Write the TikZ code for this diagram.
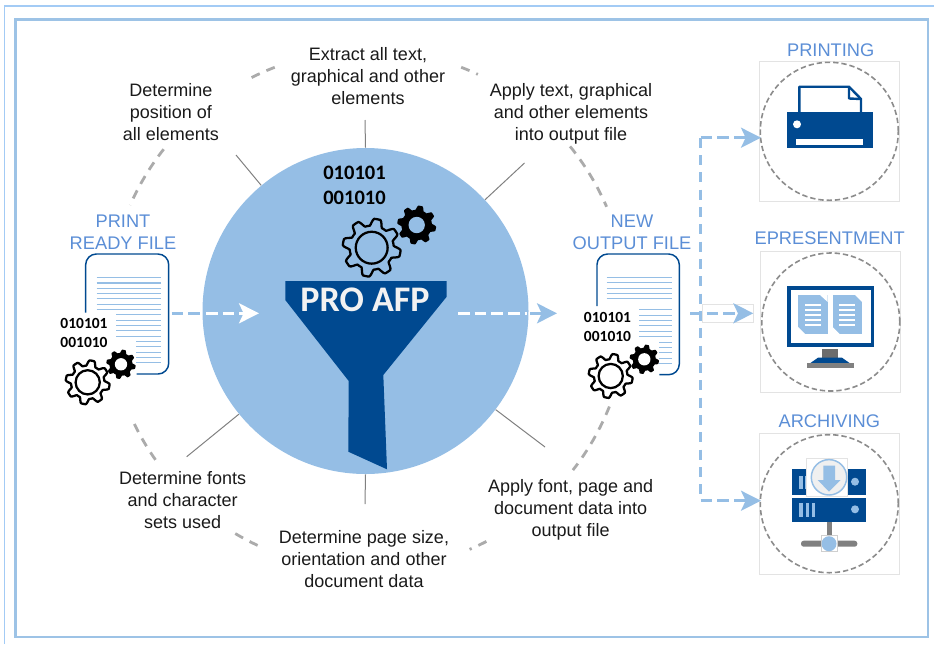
\documentclass[tikz,border=0pt]{standalone}
\usepackage{fontspec}
\setmainfont{Liberation Sans}
\newfontfamily\carl{Carlito}
\usetikzlibrary{arrows.meta}
\definecolor{hubblue}{HTML}{95BEE5}
\definecolor{darkblue}{HTML}{004990}
\definecolor{labelblue}{HTML}{5B8ED6}
\definecolor{framea}{HTML}{9DC3E6}
\definecolor{frameb}{HTML}{A3CBF5}
\definecolor{arcgray}{HTML}{ABABAB}
\definecolor{ringgray}{HTML}{8C8C8C}
\definecolor{boxgray}{HTML}{E3E3E3}
\definecolor{txt}{HTML}{1A1A1A}
\tikzset{
  bodytext/.style={align=center,text=txt,inner sep=0pt,font=\fontsize{13.5}{16.5}\selectfont},
  bluetext/.style={align=center,text=labelblue,inner sep=0pt,font=\fontsize{13.7}{16.5}\selectfont},
  binbig/.style={align=center,text=black,inner sep=0pt,font=\carl\bfseries\fontsize{15.4}{18.75}\selectfont},
  binsmall/.style={align=center,text=black,inner sep=0pt,font=\carl\bfseries\fontsize{11.6}{14.5}\selectfont},
  bigarc/.style={draw=arcgray,line width=2.1pt,dash pattern=on 6.75pt off 5.5pt},
  tick/.style={draw=gray,line width=.75pt},
  flow/.style={draw=hubblue,line width=2pt,dash pattern=on 8.75pt off 3.75pt},
  trunk/.style={draw=hubblue,line width=2pt,dash pattern=on 7.5pt off 5.5pt},
  flowwhite/.style={draw=white,line width=2pt,dash pattern=on 8.75pt off 3.75pt},
  tiphub/.style={-{Stealth[length=15pt,width=15pt,inset=3.5pt]}},
  outbox/.style={draw=boxgray,line width=.75pt,fill=white,minimum width=105pt,minimum height=105pt,inner sep=0pt},
  ring/.style={circle,draw=ringgray,line width=1.2pt,dash pattern=on 4pt off 2.2pt,minimum size=103.5pt,inner sep=0pt},
  docline/.style={draw=hubblue,line width=.8pt},
  docframe/.style={draw=darkblue,line width=1.1pt,rounded corners=8pt},
}
\newcommand{\gearO}[4]{\draw[line width=1.7pt,draw=black,fill=#4,line join=round] plot[domain=0:360,samples=145] ({#1+#3*(0.88+0.12*min(1,max(-1,1.8*sin(8*\x))))*cos(\x)},{#2+#3*(0.88+0.12*min(1,max(-1,1.8*sin(8*\x))))*sin(\x)}) -- cycle;
  \draw[line width=1.7pt] (#1,#2) circle[radius=#3*0.55];}
\newcommand{\gearS}[4]{\fill[black,line join=round] plot[domain=0:360,samples=145] ({#1+#3*(0.89+0.11*min(1,max(-1,1.8*sin(8*\x))))*cos(\x)},{#2+#3*(0.89+0.11*min(1,max(-1,1.8*sin(8*\x))))*sin(\x)}) -- cycle;
  \fill[#4] (#1,#2) circle[radius=#3*0.42];}
\begin{document}
\begin{tikzpicture}[x=0.75pt,y=-0.75pt]
\useasboundingbox (0,0) rectangle (934,644);
% frames
\draw[frameb,line width=.9pt] (4.5,644) -- (4.5,6) -- (934,6);
\draw[framea,line width=1.8pt] (15.5,19.5) rectangle (928,637);
% dashed ring around the hub
\coordinate (ctr) at (368,310);
\foreach \a/\b in {218.2/203.8,243.4/249,291/295,321/336.6,21.8/38,62.9/67,120.7/115,154/144.6}{
  \draw[bigarc] (ctr) ++(\a:260) arc[start angle=\a,end angle=\b,radius=260];
}
% ticks, running under the hub
\node[circle,minimum size=244.5pt,inner sep=0pt] (hub) at (365.5,311) {};
\coordinate (tT) at (365,120);
\coordinate (tB) at (365,504);
\coordinate (tTL) at (236,155);
\coordinate (tTR) at (524.5,163);
\coordinate (tBR) at (545,447);
\coordinate (tBL) at (186.7,456.7);
\draw[tick] (tT) -- (hub.north);
\draw[tick] (tB) -- (hub.south);
\draw[tick] (tTL) -- (hub);
\draw[tick] (tTR) -- (hub);
\draw[tick] (tBR) -- (hub);
\draw[tick] (tBL) -- (hub);
\node[circle,fill=hubblue,minimum size=244.5pt,inner sep=0pt] (hubtop) at (365.5,311) {};
% funnel
\fill[darkblue] (285.3,281) -- (446.7,281) -- (446.7,296.7) -- (383.3,375) -- (387,469.3) -- (348.3,451.7) -- (348.7,381) -- (285.3,300) -- cycle;
\node[text=white!95!black,inner sep=0pt,font=\carl\bfseries\fontsize{27}{30}\selectfont] (pro) at (365,300) {PRO AFP};
\node[binbig] (binhub) at (354.5,185.5) {010101\\001010};
\gearO{371.7}{247.7}{29}{hubblue}
\gearS{416.7}{225}{19.5}{hubblue}
% body labels
\node[bodytext] (l1) at (368,76) {Extract all text,\\graphical and other\\elements};
\node[bodytext] (l2) at (171,112) {Determine\\position of\\all elements};
\node[bodytext] (l3) at (571,114) {Apply text, graphical\\and other elements\\into output file};
\node[bodytext] (l4) at (182.7,500) {Determine fonts\\and character\\sets used};
\node[bodytext] (l5) at (364,559) {Determine page size,\\orientation and other\\document data};
\node[bodytext] (l6) at (570.7,510) {Apply font, page and\\document data into\\output file};
% blue labels
\node[bluetext] (b1) at (123,232) {PRINT\\READY FILE};
\node[bluetext] (b2) at (632,232.5) {NEW\\OUTPUT FILE};
\node[bluetext] (b3) at (830.7,50) {PRINTING};
\node[bluetext] (b4) at (829.7,238) {EPRESENTMENT};
\node[bluetext] (b5) at (829.3,420.7) {ARCHIVING};
% left document
\draw[docframe] (85.7,312.7) -- (85.7,254) -- (168.7,254) -- (168.7,374) -- (136.7,374);
\foreach \k in {0,...,6}{\draw[docline] (96.7,{277.7+5.31*\k}) -- (160.7,{277.7+5.31*\k});}
\foreach \k in {7,...,11}{\draw[docline] (116,{277.7+5.31*\k}) -- (160.7,{277.7+5.31*\k});}
\foreach \k in {12,...,16}{\draw[docline] (136,{277.7+5.31*\k}) -- (160.7,{277.7+5.31*\k});}
\node[binsmall] (binl) at (84,333) {010101\\001010};
\gearO{87.7}{382.3}{22}{white}
\gearS{121}{364.3}{14.7}{white}
% right document
\draw[docframe] (597,306) -- (597,254) -- (679.3,254) -- (679.3,374.7) -- (659.3,374.7);
\foreach \k in {0,...,4}{\draw[docline] (606.7,{277.3+5.4*\k}) -- (671.7,{277.3+5.4*\k});}
\foreach \k in {6,...,11}{\draw[docline] (639.3,{277.3+5.4*\k}) -- (671.7,{277.3+5.4*\k});}
\foreach \k in {12,...,16}{\draw[docline] (659.3,{277.3+5.4*\k}) -- (671.7,{277.3+5.4*\k});}
\node[binsmall] (binr) at (607.5,327) {010101\\001010};
\gearO{610.7}{376}{22}{white}
\gearS{644.3}{359.3}{14.7}{white}
% output boxes
\node[outbox] (pbox) at (829.3,131.3) {};
\node[outbox,minimum height=105.5pt] (ebox) at (830.8,322) {};
\node[outbox,minimum height=105.5pt] (abox) at (829.3,503.7) {};
\node[ring] (pring) at (pbox) {};
\node[ring] (ering) at (ebox) {};
\node[ring] (aring) at (abox) {};
% printer
\fill[darkblue] (787.3,112.3) rectangle (873.3,148);
\fill[white] (797,124.3) circle[radius=4];
\fill[white] (796.3,138.7) rectangle (863.3,145.3);
\draw[darkblue,line width=1.8pt,line join=round] (799.3,112.3) -- (799.3,86.7) -- (849,86.7) -- (861,99) -- (861,112.3);
\draw[darkblue,line width=1.8pt,line join=round] (849,86.7) -- (849,98.5) -- (861,99);
% monitor
\fill[darkblue] (786.7,285.7) rectangle (874,347.3);
\fill[white] (790.7,290) rectangle (870.7,343.3);
\fill[hubblue] (798,295) rectangle (827.7,334);
\fill[hubblue] (832.7,295) rectangle (862,334);
\fill[white] (820,295) -- (827.7,295) -- (827.7,302) -- cycle;
\fill[white] (798,327) -- (798,334) -- (805,334) -- cycle;
\fill[white] (855,295) -- (862,295) -- (862,302) -- cycle;
\fill[white] (832.7,327) -- (832.7,334) -- (839.7,334) -- cycle;
\foreach \y in {305,310,315,320,325}{
  \draw[white,line width=.8pt] (805,\y) -- (821,\y);
  \draw[white,line width=.8pt] (839.3,\y) -- (855,\y);
}
\fill[gray!85!black] (822.3,349.3) rectangle (838.3,358.3);
\fill[darkblue] (810,363.3) -- (818,357.7) -- (842,357.7) -- (850,363.3) -- cycle;
\fill[gray] (806.7,363.3) rectangle (854,368.3);
% server
\fill[darkblue] (792,469) rectangle (866,495);
\fill[darkblue] (792,497.7) rectangle (866,522);
\fill[hubblue] (799.3,476) rectangle (802.7,489);
\fill[hubblue] (805,476) rectangle (810,489);
\fill[hubblue] (855,481.7) circle[radius=4];
\fill[hubblue] (855,509.3) circle[radius=4];
\fill[hubblue] (799.3,502.7) rectangle (802.7,516.7);
\fill[hubblue] (805.5,502.7) rectangle (808.8,516.7);
\fill[hubblue] (811.7,502.7) rectangle (815,516.7);
\draw[boxgray,line width=.6pt,fill=white] (806.3,458.3) rectangle (847.7,496);
\draw[hubblue,line width=1.1pt,fill=gray!12!white] (829,477.3) circle[radius=17.7];
\fill[hubblue] (823.3,465.7) -- (835,465.7) -- (835,480) -- (840.7,480) -- (829,491.7) -- (817.7,480) -- (823.3,480) -- cycle;
\fill[gray] (826.7,522) rectangle (832,537);
\fill[gray,rounded corners=2pt] (801,540.7) rectangle (857.3,546.7);
\draw[boxgray!80!gray,line width=.5pt,fill=white] (821.3,535.3) rectangle (837.3,551.3);
\fill[hubblue] (829,543.7) circle[radius=7.5];
% flows
\coordinate (f1) at (171.7,313.3);
\coordinate (f2) at (202,313.3);
\coordinate (f3) at (206,313.3);
\coordinate (f4) at (259,313.3);
\draw[flow] (f1) -- (f2);
\draw[flowwhite,tiphub] (f3) -- (f4);
\coordinate (g1) at (458,313.3);
\coordinate (g2) at (527,313.3);
\coordinate (g3) at (530,313.3);
\coordinate (g4) at (557,313.3);
\draw[flowwhite] (g1) -- (g2);
\draw[flow,tiphub] (g3) -- (g4);
\coordinate (jP) at (700.7,137.7);
\coordinate (jA) at (700.7,500.7);
\coordinate (tipP) at (761,137.7);
\coordinate (tipA) at (761,500.7);
\draw[trunk] (jP) -- (jA);
\draw[flow,tiphub] (jP) -- (tipP);
\draw[flow,tiphub] (jA) -- (tipA);
\node[draw=boxgray,line width=.5pt,fill=white,minimum width=38pt,minimum height=13.5pt,inner sep=0pt] (mid) at (727.8,313.3) {};
\coordinate (m0) at (690,313.3);
\coordinate (m1) at (753.3,313.3);
\draw[flow,tiphub] (m0) -- (m1);
\end{tikzpicture}
\end{document}
